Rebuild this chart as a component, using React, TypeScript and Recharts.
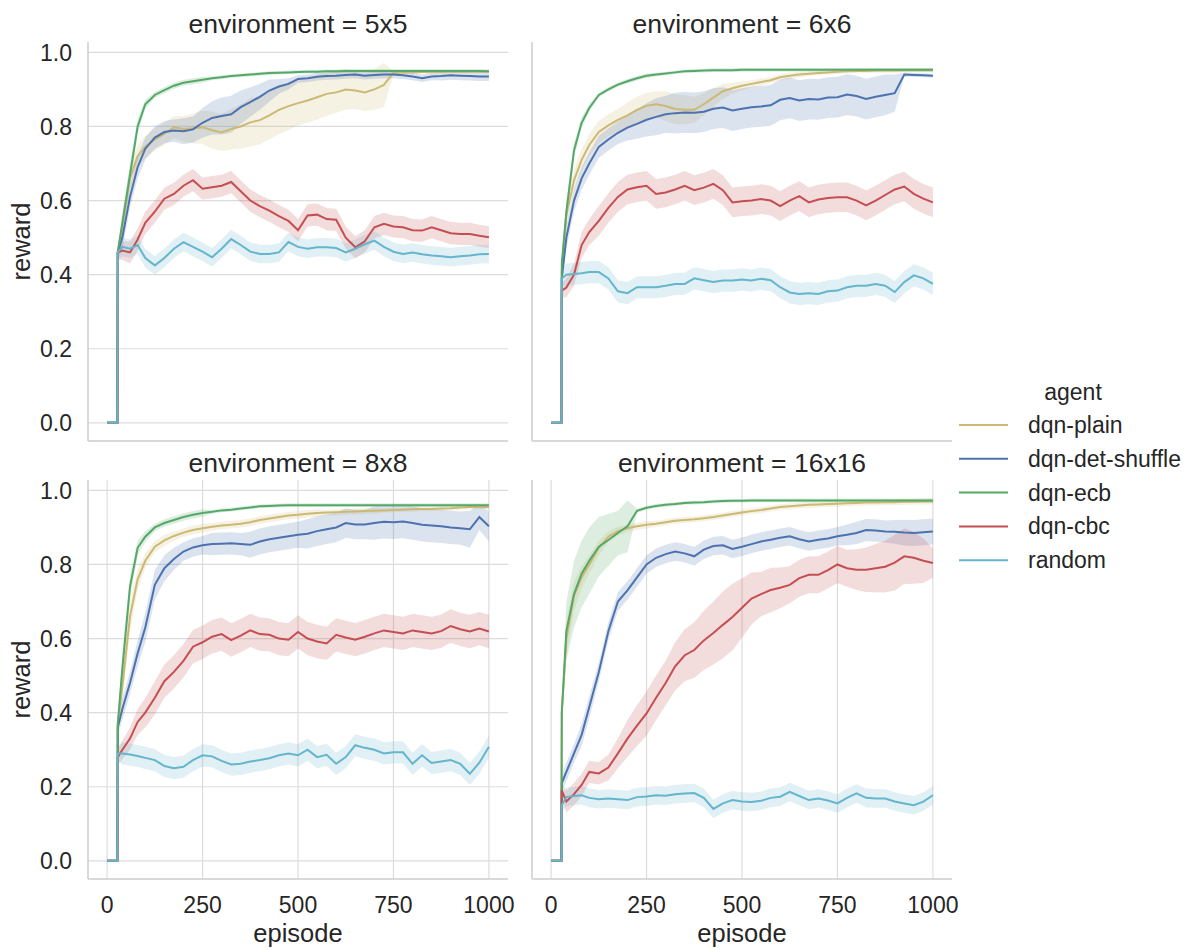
import { ComposedChart, Area, Line, XAxis, YAxis, CartesianGrid } from 'recharts';

// shared x grid (episodes) for every facet
const episodes = [
  0, 27, 28, 40, 60, 80, 100,
  125, 150, 175, 200, 225, 250,
  275, 300, 325, 350, 375, 400,
  425, 450, 475, 500, 525, 550,
  575, 600, 625, 650, 675, 700,
  725, 750, 775, 800, 825, 850,
  875, 900, 925, 950, 975, 1000,
];

const agents = ['dqn-plain', 'dqn-det-shuffle', 'dqn-ecb', 'dqn-cbc', 'random'];
const agentColors = ['#ccb974', '#4c72b0', '#55a868', '#c44e52', '#64b5cd'];
const xTicks = [0, 250, 500, 750, 1000];
const yTicks = [0, 0.2, 0.4, 0.6, 0.8, 1.0];

// ---- environment = 5x5 ----
const plain5 = [
  0, 0, 0.46, 0.53, 0.66, 0.72, 0.745,
  0.765, 0.78, 0.798, 0.793, 0.795, 0.798,
  0.79, 0.784, 0.793, 0.8, 0.811, 0.817,
  0.83, 0.845, 0.855, 0.863, 0.87, 0.879,
  0.888, 0.892, 0.9, 0.897, 0.892, 0.9,
  0.912, 0.945, 0.946, 0.946, 0.947, 0.947,
  0.947, 0.948, 0.948, 0.948, 0.948, 0.948,
];
const plain5Ci = [
  0, 0, 0.02, 0.03, 0.03, 0.03, 0.03,
  0.03, 0.03, 0.03, 0.035, 0.04, 0.045,
  0.05, 0.05, 0.055, 0.06, 0.065, 0.065,
  0.065, 0.065, 0.065, 0.06, 0.06, 0.06,
  0.06, 0.055, 0.055, 0.05, 0.05, 0.055,
  0.06, 0.005, 0.004, 0.004, 0.004, 0.004,
  0.004, 0.004, 0.004, 0.004, 0.004, 0.004,
];
const shuffle5 = [
  0, 0, 0.46, 0.5, 0.61, 0.69, 0.74,
  0.77, 0.785, 0.789, 0.787, 0.792, 0.81,
  0.823, 0.828, 0.833, 0.852, 0.866, 0.88,
  0.897, 0.908, 0.915, 0.928, 0.93, 0.934,
  0.936, 0.937, 0.939, 0.94, 0.937, 0.939,
  0.94, 0.94, 0.938, 0.935, 0.93, 0.935,
  0.936, 0.938, 0.937, 0.936, 0.935, 0.935,
];
const shuffle5Ci = [
  0, 0, 0.02, 0.03, 0.03, 0.03, 0.03,
  0.03, 0.03, 0.03, 0.035, 0.035, 0.04,
  0.045, 0.05, 0.05, 0.045, 0.04, 0.035,
  0.03, 0.02, 0.015, 0.01, 0.01, 0.01,
  0.01, 0.01, 0.01, 0.01, 0.01, 0.01,
  0.01, 0.01, 0.01, 0.01, 0.01, 0.01,
  0.012, 0.012, 0.012, 0.012, 0.012, 0.012,
];
const ecb5 = [
  0, 0, 0.46, 0.54, 0.67, 0.8, 0.86,
  0.885, 0.898, 0.91, 0.918, 0.922, 0.926,
  0.93, 0.933, 0.936, 0.938, 0.94, 0.942,
  0.944, 0.945, 0.946, 0.947, 0.948, 0.948,
  0.949, 0.949, 0.95, 0.95, 0.95, 0.95,
  0.95, 0.95, 0.95, 0.95, 0.95, 0.95,
  0.95, 0.95, 0.95, 0.95, 0.95, 0.949,
];
const ecb5Ci = [
  0, 0, 0.01, 0.03, 0.03, 0.02, 0.012,
  0.008, 0.008, 0.008, 0.008, 0.008, 0.008,
  0.005, 0.005, 0.005, 0.005, 0.005, 0.005,
  0.005, 0.005, 0.005, 0.005, 0.005, 0.005,
  0.005, 0.005, 0.005, 0.005, 0.005, 0.005,
  0.005, 0.005, 0.005, 0.005, 0.005, 0.005,
  0.005, 0.005, 0.005, 0.005, 0.005, 0.005,
];
const cbc5 = [
  0, 0, 0.46, 0.465, 0.46, 0.495, 0.54,
  0.57, 0.605, 0.618, 0.64, 0.655, 0.632,
  0.636, 0.64, 0.65, 0.625, 0.6, 0.585,
  0.573, 0.558, 0.545, 0.52, 0.56, 0.562,
  0.55, 0.548, 0.5, 0.474, 0.49, 0.528,
  0.537, 0.53, 0.528, 0.52, 0.519, 0.528,
  0.52, 0.512, 0.51, 0.51, 0.505, 0.501,
];
const cbc5Ci = [
  0, 0, 0.02, 0.025, 0.03, 0.03, 0.03,
  0.03, 0.03, 0.03, 0.03, 0.03, 0.03,
  0.03, 0.03, 0.03, 0.03, 0.03, 0.03,
  0.03, 0.03, 0.03, 0.03, 0.03, 0.03,
  0.03, 0.03, 0.03, 0.03, 0.03, 0.03,
  0.03, 0.03, 0.03, 0.03, 0.03, 0.03,
  0.03, 0.03, 0.03, 0.03, 0.03, 0.03,
];
const random5 = [
  0, 0, 0.46, 0.475, 0.47, 0.48, 0.445,
  0.425, 0.445, 0.47, 0.488, 0.475, 0.462,
  0.447, 0.47, 0.496, 0.48, 0.462, 0.456,
  0.456, 0.46, 0.488, 0.475, 0.47, 0.474,
  0.474, 0.472, 0.46, 0.47, 0.482, 0.492,
  0.475, 0.462, 0.456, 0.46, 0.455, 0.452,
  0.45, 0.447, 0.45, 0.452, 0.455, 0.456,
];
const random5Ci = [
  0, 0, 0.02, 0.025, 0.025, 0.025, 0.025,
  0.025, 0.025, 0.025, 0.025, 0.025, 0.025,
  0.025, 0.025, 0.025, 0.025, 0.025, 0.025,
  0.025, 0.025, 0.025, 0.025, 0.025, 0.025,
  0.025, 0.025, 0.025, 0.025, 0.025, 0.025,
  0.025, 0.025, 0.025, 0.025, 0.025, 0.025,
  0.025, 0.025, 0.025, 0.025, 0.025, 0.025,
];

// ---- environment = 6x6 ----
const plain6 = [
  0, 0, 0.41, 0.56, 0.655, 0.71, 0.75,
  0.785, 0.803, 0.818, 0.83, 0.845, 0.856,
  0.86, 0.855, 0.847, 0.845, 0.845, 0.86,
  0.878, 0.895, 0.903, 0.91, 0.915, 0.92,
  0.925, 0.933, 0.937, 0.94, 0.942, 0.944,
  0.946, 0.948, 0.949, 0.95, 0.95, 0.951,
  0.951, 0.951, 0.952, 0.952, 0.952, 0.952,
];
const plain6Ci = [
  0, 0, 0.02, 0.03, 0.03, 0.03, 0.03,
  0.03, 0.03, 0.03, 0.035, 0.035, 0.035,
  0.035, 0.04, 0.04, 0.04, 0.035, 0.03,
  0.025, 0.02, 0.015, 0.012, 0.01, 0.01,
  0.008, 0.008, 0.008, 0.008, 0.006, 0.006,
  0.006, 0.006, 0.006, 0.006, 0.006, 0.006,
  0.006, 0.006, 0.006, 0.006, 0.006, 0.006,
];
const shuffle6 = [
  0, 0, 0.39, 0.5, 0.6, 0.66, 0.7,
  0.745, 0.765, 0.783, 0.797, 0.807, 0.818,
  0.826, 0.833, 0.836, 0.838, 0.837, 0.84,
  0.848, 0.851, 0.843, 0.848, 0.852, 0.854,
  0.857, 0.872, 0.877, 0.87, 0.874, 0.873,
  0.878, 0.879, 0.886, 0.882, 0.874, 0.88,
  0.885, 0.89, 0.94, 0.939, 0.938, 0.937,
];
const shuffle6Ci = [
  0, 0, 0.02, 0.03, 0.03, 0.03, 0.03,
  0.03, 0.03, 0.03, 0.035, 0.04, 0.045,
  0.05, 0.05, 0.055, 0.055, 0.055, 0.055,
  0.055, 0.055, 0.055, 0.055, 0.055, 0.055,
  0.055, 0.055, 0.055, 0.055, 0.055, 0.055,
  0.055, 0.055, 0.055, 0.055, 0.055, 0.055,
  0.055, 0.05, 0.005, 0.005, 0.005, 0.005,
];
const ecb6 = [
  0, 0, 0.43, 0.57, 0.735, 0.81, 0.85,
  0.885, 0.9, 0.913, 0.922, 0.93, 0.937,
  0.94, 0.943, 0.946, 0.949, 0.95, 0.951,
  0.952, 0.952, 0.952, 0.953, 0.953, 0.953,
  0.953, 0.953, 0.953, 0.953, 0.953, 0.953,
  0.953, 0.953, 0.953, 0.953, 0.953, 0.953,
  0.953, 0.953, 0.953, 0.953, 0.953, 0.953,
];
const ecb6Ci = [
  0, 0, 0.02, 0.03, 0.02, 0.015, 0.01,
  0.006, 0.006, 0.006, 0.006, 0.006, 0.006,
  0.005, 0.005, 0.005, 0.005, 0.005, 0.005,
  0.005, 0.005, 0.005, 0.005, 0.005, 0.005,
  0.005, 0.005, 0.005, 0.005, 0.005, 0.005,
  0.005, 0.005, 0.005, 0.005, 0.005, 0.005,
  0.005, 0.005, 0.005, 0.005, 0.005, 0.005,
];
const cbc6 = [
  0, 0, 0.357, 0.365, 0.4, 0.48, 0.515,
  0.545, 0.58, 0.61, 0.63, 0.636, 0.64,
  0.618, 0.622, 0.63, 0.64, 0.628, 0.635,
  0.645, 0.628, 0.595, 0.598, 0.6, 0.604,
  0.6, 0.585, 0.6, 0.612, 0.595, 0.603,
  0.607, 0.609, 0.609, 0.6, 0.587, 0.6,
  0.615, 0.63, 0.638, 0.618, 0.605, 0.595,
];
const cbc6Ci = [
  0, 0, 0.02, 0.025, 0.03, 0.035, 0.035,
  0.04, 0.04, 0.04, 0.04, 0.04, 0.04,
  0.04, 0.04, 0.04, 0.04, 0.04, 0.04,
  0.04, 0.04, 0.04, 0.04, 0.04, 0.04,
  0.04, 0.04, 0.04, 0.04, 0.04, 0.04,
  0.04, 0.04, 0.04, 0.04, 0.04, 0.04,
  0.04, 0.04, 0.04, 0.04, 0.04, 0.04,
];
const random6 = [
  0, 0, 0.39, 0.4, 0.402, 0.404, 0.407,
  0.407, 0.39, 0.355, 0.35, 0.366, 0.366,
  0.366, 0.37, 0.375, 0.375, 0.39, 0.385,
  0.38, 0.384, 0.384, 0.387, 0.384, 0.389,
  0.385, 0.366, 0.352, 0.348, 0.35, 0.348,
  0.355, 0.357, 0.366, 0.37, 0.37, 0.375,
  0.37, 0.353, 0.38, 0.398, 0.39, 0.375,
];
const random6Ci = [
  0, 0, 0.02, 0.03, 0.03, 0.03, 0.03,
  0.03, 0.03, 0.03, 0.03, 0.03, 0.03,
  0.03, 0.03, 0.03, 0.03, 0.03, 0.03,
  0.03, 0.03, 0.03, 0.03, 0.03, 0.03,
  0.03, 0.03, 0.03, 0.03, 0.03, 0.03,
  0.03, 0.03, 0.03, 0.03, 0.03, 0.03,
  0.03, 0.03, 0.03, 0.03, 0.03, 0.03,
];

// ---- environment = 8x8 ----
const plain8 = [
  0, 0, 0.37, 0.47, 0.66, 0.76, 0.81,
  0.848, 0.865, 0.877, 0.886, 0.893, 0.898,
  0.902, 0.905, 0.907, 0.91, 0.914, 0.92,
  0.924, 0.928, 0.932, 0.934, 0.937, 0.939,
  0.94, 0.941, 0.942, 0.943, 0.944, 0.945,
  0.946, 0.947, 0.948, 0.949, 0.95, 0.95,
  0.951, 0.952, 0.954, 0.955, 0.955, 0.955,
];
const plain8Ci = [
  0, 0, 0.02, 0.04, 0.04, 0.03, 0.02,
  0.015, 0.015, 0.012, 0.012, 0.012, 0.012,
  0.01, 0.01, 0.01, 0.01, 0.01, 0.01,
  0.01, 0.01, 0.01, 0.01, 0.01, 0.01,
  0.008, 0.008, 0.008, 0.008, 0.008, 0.008,
  0.006, 0.006, 0.006, 0.006, 0.006, 0.006,
  0.006, 0.006, 0.006, 0.006, 0.006, 0.006,
];
const shuffle8 = [
  0, 0, 0.36, 0.41, 0.48, 0.56, 0.63,
  0.745, 0.79, 0.815, 0.835, 0.846, 0.852,
  0.855, 0.856, 0.857, 0.855, 0.853, 0.862,
  0.868, 0.872, 0.876, 0.88, 0.883, 0.89,
  0.895, 0.9, 0.912, 0.908, 0.908, 0.912,
  0.915, 0.914, 0.916, 0.912, 0.907, 0.905,
  0.903, 0.9, 0.898, 0.895, 0.928, 0.903,
];
const shuffle8Ci = [
  0, 0, 0.02, 0.03, 0.03, 0.035, 0.04,
  0.04, 0.035, 0.03, 0.025, 0.025, 0.025,
  0.03, 0.03, 0.03, 0.03, 0.035, 0.035,
  0.035, 0.035, 0.035, 0.035, 0.04, 0.04,
  0.04, 0.04, 0.04, 0.04, 0.04, 0.045,
  0.045, 0.045, 0.045, 0.045, 0.045, 0.045,
  0.045, 0.045, 0.045, 0.05, 0.035, 0.04,
];
const ecb8 = [
  0, 0, 0.37, 0.52, 0.74, 0.845, 0.875,
  0.9, 0.912, 0.92, 0.928, 0.934, 0.939,
  0.942, 0.946, 0.948, 0.951, 0.954, 0.957,
  0.958, 0.959, 0.96, 0.96, 0.96, 0.96,
  0.96, 0.96, 0.96, 0.96, 0.96, 0.96,
  0.96, 0.96, 0.96, 0.96, 0.96, 0.96,
  0.96, 0.96, 0.96, 0.96, 0.96, 0.96,
];
const ecb8Ci = [
  0, 0, 0.02, 0.04, 0.03, 0.02, 0.015,
  0.01, 0.01, 0.01, 0.01, 0.01, 0.01,
  0.005, 0.005, 0.005, 0.005, 0.005, 0.005,
  0.005, 0.005, 0.005, 0.005, 0.005, 0.005,
  0.005, 0.005, 0.005, 0.005, 0.005, 0.005,
  0.005, 0.005, 0.005, 0.005, 0.005, 0.005,
  0.005, 0.005, 0.005, 0.005, 0.005, 0.005,
];
const cbc8 = [
  0, 0, 0.28, 0.3, 0.33, 0.375, 0.4,
  0.44, 0.485, 0.51, 0.54, 0.578, 0.59,
  0.605, 0.612, 0.596, 0.608, 0.622, 0.612,
  0.61, 0.6, 0.597, 0.618, 0.6, 0.592,
  0.587, 0.61, 0.603, 0.597, 0.605, 0.614,
  0.622, 0.618, 0.614, 0.622, 0.618, 0.614,
  0.62, 0.634, 0.625, 0.619, 0.627, 0.619,
];
const cbc8Ci = [
  0, 0, 0.02, 0.025, 0.03, 0.035, 0.04,
  0.045, 0.045, 0.045, 0.045, 0.045, 0.045,
  0.045, 0.045, 0.045, 0.045, 0.045, 0.045,
  0.045, 0.045, 0.045, 0.045, 0.045, 0.045,
  0.045, 0.045, 0.045, 0.045, 0.045, 0.045,
  0.045, 0.045, 0.045, 0.045, 0.045, 0.045,
  0.045, 0.045, 0.045, 0.045, 0.045, 0.045,
];
const random8 = [
  0, 0, 0.29, 0.29, 0.287, 0.283, 0.278,
  0.272, 0.256, 0.25, 0.254, 0.272, 0.285,
  0.282, 0.27, 0.26, 0.262, 0.268, 0.272,
  0.277, 0.285, 0.29, 0.285, 0.3, 0.28,
  0.286, 0.262, 0.28, 0.312, 0.305, 0.3,
  0.29, 0.293, 0.293, 0.262, 0.285, 0.264,
  0.268, 0.272, 0.262, 0.235, 0.265, 0.308,
];
const random8Ci = [
  0, 0, 0.02, 0.03, 0.03, 0.03, 0.03,
  0.03, 0.03, 0.03, 0.03, 0.03, 0.03,
  0.03, 0.03, 0.03, 0.03, 0.03, 0.03,
  0.03, 0.03, 0.03, 0.03, 0.03, 0.03,
  0.03, 0.03, 0.03, 0.03, 0.03, 0.03,
  0.03, 0.03, 0.03, 0.03, 0.03, 0.03,
  0.03, 0.03, 0.03, 0.03, 0.03, 0.03,
];

// ---- environment = 16x16 ----
const plain16 = [
  0, 0, 0.4, 0.6, 0.715, 0.765, 0.8,
  0.845, 0.875, 0.89, 0.898, 0.903, 0.907,
  0.91, 0.914, 0.918, 0.92, 0.922, 0.925,
  0.928, 0.932, 0.936, 0.94, 0.944, 0.947,
  0.951, 0.955, 0.957, 0.959, 0.961, 0.962,
  0.963, 0.964, 0.965, 0.966, 0.967, 0.967,
  0.968, 0.968, 0.969, 0.969, 0.97, 0.97,
];
const plain16Ci = [
  0, 0, 0.03, 0.05, 0.04, 0.03, 0.025,
  0.02, 0.015, 0.012, 0.01, 0.01, 0.01,
  0.008, 0.008, 0.008, 0.008, 0.008, 0.008,
  0.008, 0.008, 0.008, 0.008, 0.008, 0.008,
  0.008, 0.008, 0.008, 0.008, 0.008, 0.008,
  0.008, 0.008, 0.008, 0.008, 0.008, 0.008,
  0.008, 0.008, 0.008, 0.008, 0.008, 0.008,
];
const shuffle16 = [
  0, 0, 0.21, 0.24, 0.29, 0.34, 0.415,
  0.51, 0.62, 0.7, 0.73, 0.765, 0.8,
  0.818, 0.828, 0.835, 0.83, 0.822, 0.84,
  0.85, 0.852, 0.842, 0.848, 0.855, 0.862,
  0.867, 0.872, 0.876, 0.868, 0.862, 0.867,
  0.87, 0.876, 0.88, 0.885, 0.893, 0.892,
  0.889, 0.888, 0.886, 0.885, 0.887, 0.889,
];
const shuffle16Ci = [
  0, 0, 0.02, 0.025, 0.025, 0.03, 0.03,
  0.025, 0.025, 0.025, 0.025, 0.025, 0.025,
  0.025, 0.025, 0.025, 0.025, 0.025, 0.025,
  0.025, 0.025, 0.025, 0.025, 0.025, 0.025,
  0.025, 0.025, 0.025, 0.025, 0.025, 0.025,
  0.025, 0.025, 0.028, 0.03, 0.03, 0.03,
  0.03, 0.032, 0.035, 0.035, 0.035, 0.035,
];
const ecb16 = [
  0, 0, 0.4, 0.62, 0.72, 0.775, 0.81,
  0.848, 0.866, 0.885, 0.903, 0.945, 0.953,
  0.958, 0.961, 0.963, 0.966, 0.967, 0.968,
  0.97, 0.971, 0.972, 0.972, 0.973, 0.973,
  0.973, 0.973, 0.973, 0.973, 0.973, 0.973,
  0.973, 0.973, 0.973, 0.973, 0.973, 0.973,
  0.973, 0.973, 0.973, 0.973, 0.973, 0.973,
];
const ecb16Ci = [
  0, 0, 0.03, 0.08, 0.09, 0.09, 0.09,
  0.08, 0.07, 0.06, 0.07, 0.006, 0.005,
  0.005, 0.005, 0.005, 0.005, 0.005, 0.005,
  0.005, 0.005, 0.005, 0.005, 0.005, 0.005,
  0.005, 0.005, 0.005, 0.005, 0.005, 0.005,
  0.005, 0.005, 0.005, 0.005, 0.005, 0.005,
  0.005, 0.005, 0.005, 0.005, 0.005, 0.005,
];
const cbc16 = [
  0, 0, 0.19, 0.16, 0.18, 0.205, 0.24,
  0.236, 0.252, 0.29, 0.33, 0.365, 0.398,
  0.44, 0.48, 0.525, 0.555, 0.569, 0.595,
  0.615, 0.637, 0.658, 0.683, 0.708, 0.72,
  0.731, 0.737, 0.745, 0.763, 0.772, 0.772,
  0.785, 0.8, 0.79, 0.786, 0.786, 0.79,
  0.794, 0.805, 0.822, 0.818, 0.81, 0.804,
];
const cbc16Ci = [
  0, 0, 0.02, 0.03, 0.03, 0.03, 0.03,
  0.03, 0.035, 0.04, 0.05, 0.055, 0.06,
  0.06, 0.06, 0.065, 0.07, 0.075, 0.08,
  0.085, 0.09, 0.09, 0.08, 0.07, 0.06,
  0.06, 0.055, 0.05, 0.05, 0.05, 0.05,
  0.05, 0.05, 0.05, 0.055, 0.06, 0.065,
  0.07, 0.075, 0.075, 0.07, 0.06, 0.04,
];
const random16 = [
  0, 0, 0.15, 0.172, 0.175, 0.177, 0.17,
  0.166, 0.168, 0.166, 0.164, 0.172, 0.174,
  0.177, 0.176, 0.18, 0.182, 0.183, 0.17,
  0.14, 0.155, 0.164, 0.16, 0.159, 0.162,
  0.17, 0.173, 0.186, 0.175, 0.164, 0.168,
  0.163, 0.155, 0.17, 0.182, 0.17, 0.168,
  0.168, 0.16, 0.155, 0.15, 0.16, 0.177,
];
const random16Ci = [
  0, 0, 0.02, 0.025, 0.025, 0.025, 0.025,
  0.025, 0.025, 0.025, 0.025, 0.025, 0.025,
  0.025, 0.025, 0.025, 0.025, 0.025, 0.025,
  0.025, 0.025, 0.025, 0.025, 0.025, 0.025,
  0.025, 0.025, 0.025, 0.025, 0.025, 0.025,
  0.025, 0.025, 0.025, 0.025, 0.025, 0.025,
  0.025, 0.025, 0.025, 0.025, 0.025, 0.025,
];

const FONT = '"Liberation Sans", Arial, sans-serif';
const INK = '#262626';
const GRID = '#dcdcdc';
const SPINE = '#cccccc';

type Pair = [number[], number[]];

interface PanelProps {
  title: string;
  series: Pair[];
  left: number;
  top: number;
  bottomRow: boolean;
  leftCol: boolean;
}

function buildRows(series: Pair[]) {
  return episodes.map((episode, i) => {
    const row: Record<string, number | number[]> = { episode };
    series.forEach(([mean, ci], k) => {
      row[`m${k}`] = mean[i];
      row[`b${k}`] = [mean[i] - ci[i], mean[i] + ci[i]];
    });
    return row;
  });
}

function Panel({ series, left, top, bottomRow, leftCol }: PanelProps) {
  const rows = buildRows(series);
  const marginTop = bottomRow ? 30 : 42;
  const xHeight = bottomRow ? 66 : 19;
  const height = marginTop + 399 + xHeight;
  const tickStyle = { fontSize: 23, fill: INK, fontFamily: FONT };

  return (
    <div style={{ position: 'absolute', left, top }}>
      <ComposedChart
        width={520}
        height={height}
        data={rows}
        margin={{ top: marginTop, right: 12, bottom: 0, left: 0 }}
      >
        <CartesianGrid stroke={GRID} strokeWidth={1.2} syncWithTicks />
        <XAxis
          dataKey="episode"
          type="number"
          domain={[-50, 1050]}
          ticks={xTicks}
          interval={0}
          height={xHeight}
          tickLine={false}
          tickMargin={12}
          tick={bottomRow ? tickStyle : false}
          axisLine={{ stroke: SPINE, strokeWidth: 1.5 }}
        />
        <YAxis
          type="number"
          domain={[-0.049, 1.028]}
          ticks={yTicks}
          interval={0}
          width={88}
          tickLine={false}
          tickMargin={10}
          tick={leftCol ? tickStyle : false}
          tickFormatter={(v: number) => v.toFixed(1)}
          axisLine={{ stroke: SPINE, strokeWidth: 1.5 }}
        />
        {series.map((_, k) => (
          <Area
            key={`band${k}`}
            type="linear"
            dataKey={`b${k}`}
            stroke="none"
            fill={agentColors[k]}
            fillOpacity={0.2}
            activeDot={false}
            isAnimationActive={false}
          />
        ))}
        {series.map((_, k) => (
          <Line
            key={`line${k}`}
            type="linear"
            dataKey={`m${k}`}
            stroke={agentColors[k]}
            strokeWidth={2}
            dot={false}
            activeDot={false}
            isAnimationActive={false}
          />
        ))}
      </ComposedChart>
    </div>
  );
}

const panels = [
  {
    title: 'environment = 5x5',
    series: [[plain5, plain5Ci], [shuffle5, shuffle5Ci], [ecb5, ecb5Ci], [cbc5, cbc5Ci], [random5, random5Ci]] as Pair[],
    left: 0, top: 0, bottomRow: false, leftCol: true, cx: 298, ty: 33,
  },
  {
    title: 'environment = 6x6',
    series: [[plain6, plain6Ci], [shuffle6, shuffle6Ci], [ecb6, ecb6Ci], [cbc6, cbc6Ci], [random6, random6Ci]] as Pair[],
    left: 444, top: 0, bottomRow: false, leftCol: false, cx: 742, ty: 33,
  },
  {
    title: 'environment = 8x8',
    series: [[plain8, plain8Ci], [shuffle8, shuffle8Ci], [ecb8, ecb8Ci], [cbc8, cbc8Ci], [random8, random8Ci]] as Pair[],
    left: 0, top: 450, bottomRow: true, leftCol: true, cx: 298, ty: 472,
  },
  {
    title: 'environment = 16x16',
    series: [[plain16, plain16Ci], [shuffle16, shuffle16Ci], [ecb16, ecb16Ci], [cbc16, cbc16Ci], [random16, random16Ci]] as Pair[],
    left: 444, top: 450, bottomRow: true, leftCol: false, cx: 742, ty: 472,
  },
];

export default function App() {
  return (
    <div
      style={{
        position: 'absolute',
        left: 0,
        top: 0,
        width: 1194,
        height: 950,
        background: '#ffffff',
        fontFamily: FONT,
        overflow: 'hidden',
      }}
    >
      {panels.map((p) => (
        <Panel key={p.title} {...p} />
      ))}
      <svg
        width={1194}
        height={950}
        style={{ position: 'absolute', left: 0, top: 0, pointerEvents: 'none' }}
        fontFamily={FONT}
        fill={INK}
      >
        {panels.map((p) => (
          <text key={p.title} x={p.cx} y={p.ty} fontSize={26.5} textAnchor="middle">
            {p.title}
          </text>
        ))}
        <text transform="translate(30, 241.5) rotate(-90)" fontSize={25.5} textAnchor="middle">reward</text>
        <text transform="translate(30, 679.5) rotate(-90)" fontSize={25.5} textAnchor="middle">reward</text>
        <text x={298} y={942} fontSize={25.5} textAnchor="middle">episode</text>
        <text x={742} y={942} fontSize={25.5} textAnchor="middle">episode</text>

        <text x={1073} y={400} fontSize={23} textAnchor="middle">agent</text>
        {agents.map((name, i) => {
          const y = 425 + i * 33.8;
          return (
            <g key={name}>
              <line x1={959} x2={1008} y1={y} y2={y} stroke={agentColors[i]} strokeWidth={2} />
              <text x={1028} y={y + 8} fontSize={23}>{name}</text>
            </g>
          );
        })}
      </svg>
    </div>
  );
}
